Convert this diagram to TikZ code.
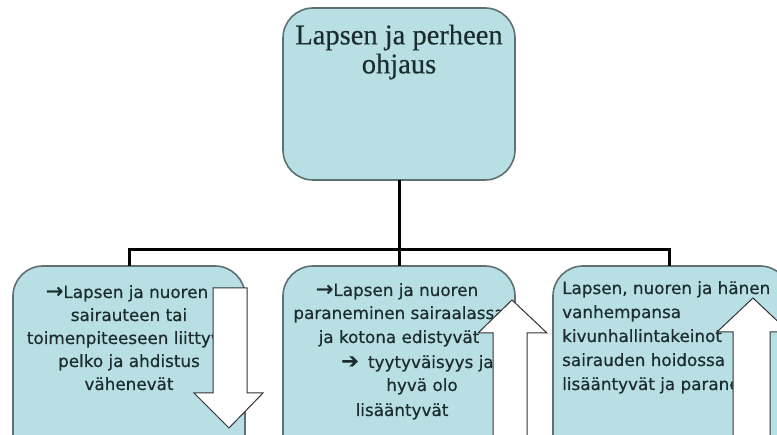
\documentclass[tikz,border=0pt]{standalone}
\usepackage{fontspec}
\setmainfont{Liberation Serif}[FakeBold=0.4]
\newfontfamily\boxfont{DejaVu Sans}[FakeBold=0.5]
\definecolor{boxfill}{HTML}{B8DFE3}
\definecolor{boxline}{HTML}{5E7072}
\definecolor{txt}{HTML}{1C2C2E}
\newcommand{\bigarr}{{\fontsize{21}{23}\selectfont →}}
\newcommand{\heavyarr}{{\fontsize{21}{23}\selectfont ➔}}
\begin{document}
\begin{tikzpicture}[x=1pt,y=-1pt,
  card/.style={draw=boxline,line width=1.6pt,fill=boxfill,rounded corners=30pt},
  conn/.style={line width=3pt,black},
  bigarrow/.style={draw=black!80,line width=1pt,fill=white},
  tline/.style={font=\boxfont\fontsize{16.8}{23}\selectfont,text=txt,inner sep=0pt,anchor=base},
  lline/.style={tline,anchor=base west},
  ttitle/.style={font=\fontsize{28.5}{29}\selectfont,text=txt,align=center,inner sep=0pt}]
\useasboundingbox (0,0) rectangle (777,435);
\clip (0,0) rectangle (777,435);
% boxes
\draw[card] (283,8) rectangle (515,180);
\draw[card] (13,266) rectangle (245,480);
\draw[card] (283,266) rectangle (515,480);
\draw[card] (553,266) rectangle (790,480);
\coordinate (topb) at (399,180);
\coordinate (hub) at (399,250);
\coordinate (hl) at (129,250);
\coordinate (hr) at (669,250);
\coordinate (b1) at (129,266);
\coordinate (b2) at (399,266);
\coordinate (b3) at (669,266);
\draw[conn] (topb) -- (hub);
\draw[conn,line cap=rect] (hl) -- (hr);
\draw[conn] (hl) -- (b1);
\draw[conn] (hub) -- (b2);
\draw[conn] (hr) -- (b3);
% title
\node[ttitle] (title) at (399,52) {Lapsen ja perheen\\ohjaus};
% box 1 text
\node[tline] (a1) at (127,298) {\bigarr Lapsen ja nuoren};
\node[tline] (a2) at (129,321) {sairauteen tai};
\node[tline] (a3) at (129,344) {toimenpiteeseen liittyvä};
\node[tline] (a4) at (129,367) {pelko ja ahdistus};
\node[tline] (a5) at (129,390) {vähenevät};
% box 2 text
\node[tline] (c1) at (397,296) {\bigarr Lapsen ja nuoren};
\node[tline] (c2) at (399,319) {paraneminen sairaalassa};
\node[tline] (c3) at (399,343) {ja kotona edistyvät};
\node[tline,anchor=base west] (c4) at (341,368) {\heavyarr\hspace{0.55em}tyytyväisyys ja};
\node[tline] (c5) at (422,391) {hyvä olo};
\node[tline] (c6) at (402,416) {lisääntyvät};
% box 3 text
\node[lline] (d1) at (562,294) {Lapsen, nuoren ja hänen};
\node[lline] (d2) at (562,318) {vanhempansa};
\node[lline] (d3) at (562,342) {kivunhallintakeinot};
\node[lline] (d4) at (562,366) {sairauden hoidossa};
\node[lline] (d5) at (562,390) {lisääntyvät ja paranevat};
% block arrows
\draw[bigarrow] (213,288) -- (247,288) -- (247,393) -- (263,393) -- (229,428) -- (194,393) -- (213,393) -- cycle;
\draw[bigarrow] (493,440) -- (493,333) -- (478,333) -- (512,300) -- (547,333) -- (527,333) -- (527,440) -- cycle;
\draw[bigarrow] (733,440) -- (733,332) -- (717,332) -- (753,298) -- (789,332) -- (770,332) -- (770,440) -- cycle;
\end{tikzpicture}
\end{document}
